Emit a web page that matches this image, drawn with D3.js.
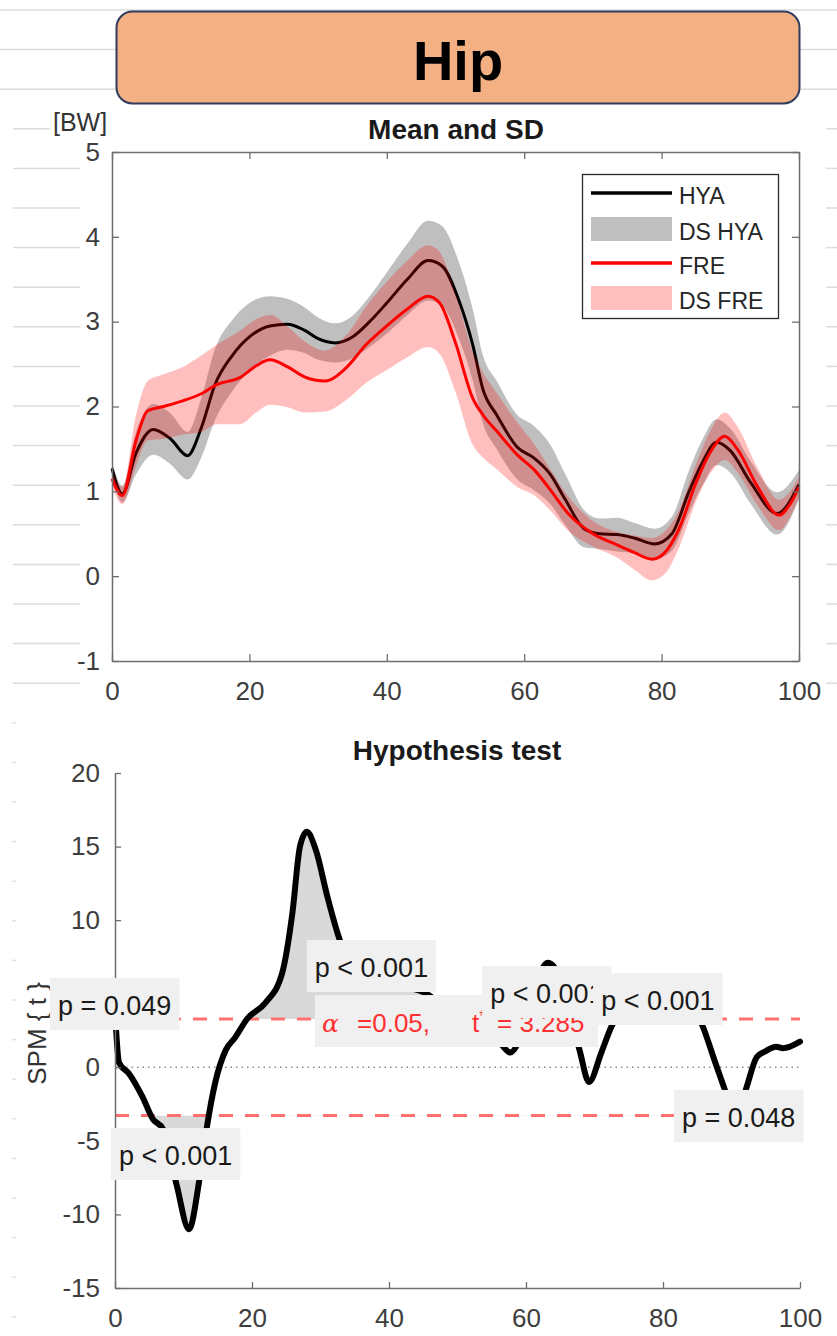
<!DOCTYPE html>
<html>
<head>
<meta charset="utf-8">
<script src="https://cdn.jsdelivr.net/npm/d3@7"></script>
<style>
  body { margin: 0; background: #fff; }
  text { font-family: "Liberation Sans", Arial, sans-serif; }
</style>
</head>
<body>
<svg id="fig" width="837" height="1336"></svg>
<script>
// ---- data ----
const hyaT    = [0, 1.5, 3.5, 6, 8.5, 11, 13, 15, 17.5, 20, 23, 25.5, 28, 30, 32.5, 35, 37.5, 40, 43, 46, 48, 50.5, 52.5, 54, 56, 59, 61.3, 63.8, 66, 68.7, 71, 73.5, 76, 79, 81.5, 84, 86, 88, 90, 93, 96.8, 100];
const hyaMean = [1.27, 0.97, 1.45, 1.73, 1.62, 1.42, 1.75, 2.26, 2.6, 2.82, 2.95, 2.97, 2.9, 2.8, 2.75, 2.82, 3.0, 3.22, 3.5, 3.72, 3.66, 3.25, 2.73, 2.2, 1.9, 1.52, 1.4, 1.2, 0.9, 0.56, 0.5, 0.49, 0.45, 0.38, 0.5, 1.0, 1.35, 1.58, 1.48, 1.1, 0.74, 1.08];
const hyaSd   = [0.08, 0.1, 0.25, 0.3, 0.3, 0.28, 0.35, 0.42, 0.42, 0.4, 0.35, 0.3, 0.27, 0.25, 0.23, 0.25, 0.3, 0.36, 0.42, 0.47, 0.47, 0.45, 0.42, 0.4, 0.4, 0.38, 0.38, 0.35, 0.3, 0.22, 0.18, 0.2, 0.18, 0.18, 0.2, 0.25, 0.27, 0.27, 0.26, 0.25, 0.25, 0.17];

const freT    = [0, 1.5, 3.5, 5.2, 7.5, 10.4, 13, 15.3, 18.6, 21, 23, 25.5, 28, 31, 34, 37, 40, 43, 46, 47.7, 50, 52.5, 54, 56, 59, 61.5, 63.5, 66.6, 70, 73.5, 76, 78.6, 80.5, 82.5, 85, 87, 89.2, 91, 94, 97.1, 98.7, 100];
const freMean = [1.15, 0.95, 1.6, 1.95, 2.0, 2.07, 2.15, 2.26, 2.34, 2.48, 2.55, 2.47, 2.35, 2.3, 2.45, 2.73, 2.95, 3.15, 3.3, 3.22, 2.75, 2.1, 1.9, 1.71, 1.43, 1.25, 1.05, 0.72, 0.5, 0.37, 0.28, 0.2, 0.28, 0.55, 1.1, 1.45, 1.65, 1.5, 1.05, 0.72, 0.85, 1.05];
const freSd   = [0.08, 0.1, 0.3, 0.35, 0.38, 0.4, 0.45, 0.47, 0.55, 0.55, 0.53, 0.48, 0.42, 0.36, 0.38, 0.45, 0.52, 0.57, 0.6, 0.6, 0.58, 0.55, 0.5, 0.45, 0.38, 0.3, 0.25, 0.2, 0.15, 0.15, 0.2, 0.25, 0.25, 0.22, 0.22, 0.25, 0.28, 0.27, 0.22, 0.18, 0.15, 0.12];

const spmT = [0, 0.6, 2, 4, 5.5, 7, 9, 10.8, 12.3, 13.4, 14.6, 16.2, 17.5, 19.3, 22, 24.4, 25.9, 27, 28, 29.3, 31, 32.7, 35, 38, 42, 45.5, 48, 51, 54, 56.5, 57.7, 59, 61, 63.2, 65, 66.5, 67.8, 69.2, 71, 72.5, 76, 79, 82, 85.7, 87.5, 89, 90.5, 92.1, 93.7, 95, 96.5, 97.5, 100];
const spmV = [3.8, 0.3, -0.4, -2.0, -3.5, -4.2, -8, -11, -7.7, -4.1, -1.1, 1.2, 2.0, 3.3, 4.4, 6.4, 10.5, 15, 16, 14.8, 11.6, 8.8, 6.5, 6, 5.5, 5.0, 4.2, 4, 3, 1.5, 1.0, 1.8, 5, 7.1, 6, 3.4, 1.2, -1.0, 1.0, 2.8, 4.5, 5.5, 5, 2.9, 0.5, -1.5, -3.6, -1.5, 0.7, 1.1, 1.4, 1.3, 1.75];
const tStar = 3.285;

const topXTicks = [0, 20, 40, 60, 80, 100];
const topYTicks = [-1, 0, 1, 2, 3, 4, 5];
const botYTicks = [-15, -10, -5, 0, 5, 10, 15, 20];
const botYHidden = [5]; // label sits under the p = 0.049 box in the original
const legendLabels = ['HYA', 'DS HYA', 'FRE', 'DS FRE'];

// cluster p-value labels, anchored at top-left corner in (time %, SPM t) units
const annotations = [
    { label: 'p = 0.049', t: -9.5, v: 6.07 },
    { label: 'p < 0.001', t: 28.0, v: 8.65 },
    { label: 'p < 0.001', t: 53.6, v: 6.88 },
    { label: 'p < 0.001', t: 69.8, v: 6.41 },
    { label: 'p < 0.001', t: -0.6, v: -4.13 },
    { label: 'p = 0.048', t: 81.6, v: -1.54 },
];
const alphaLabel = { t: 29.2, v: 4.91 };

// ---- page ----
const W = 837, H = 1336;
const svg = d3.select('#fig');
const plain = d => String(d); // matlab style, hyphen minus, no decimals

// spreadsheet row lines behind the pasted figure
d3.range(10, H, 39.6).forEach(y => {
    if (y < 100) {
        svg.append('line').attr('x1', 0).attr('x2', W).attr('y1', y).attr('y2', y)
            .attr('stroke', '#dcdcdc').attr('stroke-width', 1.5);
    } else if (y < 700) {
        svg.append('line').attr('x1', 13).attr('x2', y > 120 && y < 135 ? 50 : 80).attr('y1', y).attr('y2', y)
            .attr('stroke', '#dcdcdc').attr('stroke-width', 1.5);
        svg.append('line').attr('x1', 826).attr('x2', W).attr('y1', y).attr('y2', y)
            .attr('stroke', '#dcdcdc').attr('stroke-width', 1.5);
    } else {
        svg.append('line').attr('x1', 12).attr('x2', 16).attr('y1', y).attr('y2', y)
            .attr('stroke', '#e2e2e2').attr('stroke-width', 1.5);
    }
});

// title banner
svg.append('rect')
    .attr('x', 116.5).attr('y', 11.5).attr('width', 683).attr('height', 92)
    .attr('rx', 16).attr('ry', 16)
    .attr('fill', '#f3b183').attr('stroke', '#2f3c5c').attr('stroke-width', 2);
svg.append('text')
    .attr('x', 458).attr('y', 80).attr('text-anchor', 'middle')
    .attr('font-size', 56).attr('font-weight', 'bold').attr('fill', '#000')
    .text('Hip');

function styleAxis(g, fs) {
    g.attr('font-family', '"Liberation Sans", Arial, sans-serif')
        .attr('font-size', fs)
        .attr('color', '#6e6e6e');
    g.select('.domain').attr('stroke-width', 1.5);
    g.selectAll('.tick line').attr('stroke-width', 1.3);
    g.selectAll('.tick text').attr('fill', '#3d3d3d');
}

// ================= Mean and SD =================
const xTop = d3.scaleLinear().domain([0, 100]).range([112, 799]);
const yTop = d3.scaleLinear().domain([-1, 5]).range([661, 152]);

const hya = hyaT.map((t, i) => ({ t: t, m: hyaMean[i], s: hyaSd[i] }));
const fre = freT.map((t, i) => ({ t: t, m: freMean[i], s: freSd[i] }));

const band = d3.area()
    .x(d => xTop(d.t))
    .y0(d => yTop(d.m - d.s))
    .y1(d => yTop(d.m + d.s))
    .curve(d3.curveMonotoneX);
const meanLine = d3.line()
    .x(d => xTop(d.t))
    .y(d => yTop(d.m))
    .curve(d3.curveMonotoneX);

svg.append('path').attr('d', band(hya)).attr('fill', '#000').attr('fill-opacity', 0.25);
svg.append('path').attr('d', meanLine(hya)).attr('fill', 'none').attr('stroke', '#000').attr('stroke-width', 3);
svg.append('path').attr('d', band(fre)).attr('fill', '#ff0000').attr('fill-opacity', 0.25);
svg.append('path').attr('d', meanLine(fre)).attr('fill', 'none').attr('stroke', '#ff0000').attr('stroke-width', 3);

// box axes, ticks pointing inward
svg.append('g').attr('transform', `translate(0,${yTop(-1)})`)
    .call(d3.axisBottom(xTop).tickValues(topXTicks).tickFormat(plain).tickSizeInner(-7).tickSizeOuter(0).tickPadding(21))
    .call(styleAxis, 26);
svg.append('g').attr('transform', `translate(${xTop(0)},0)`)
    .call(d3.axisLeft(yTop).tickValues(topYTicks).tickFormat(plain).tickSizeInner(-7).tickSizeOuter(0).tickPadding(12))
    .call(styleAxis, 26);
svg.append('g').attr('transform', `translate(0,${yTop(5)})`)
    .call(d3.axisTop(xTop).tickValues(topXTicks).tickSizeInner(-7).tickSizeOuter(0).tickFormat(''))
    .call(styleAxis, 26);
svg.append('g').attr('transform', `translate(${xTop(100)},0)`)
    .call(d3.axisRight(yTop).tickValues(topYTicks).tickSizeInner(-7).tickSizeOuter(0).tickFormat(''))
    .call(styleAxis, 26);

svg.append('text')
    .attr('x', 456).attr('y', 139).attr('text-anchor', 'middle')
    .attr('font-size', 28).attr('font-weight', 'bold').attr('fill', '#1a1a1a')
    .text('Mean and SD');
svg.append('text')
    .attr('x', 53).attr('y', 131)
    .attr('font-size', 25).attr('fill', '#333')
    .text('[BW]');

// legend
const legend = svg.append('g').attr('transform', `translate(${xTop(100) - 217},${yTop(5) + 22})`);
legend.append('rect')
    .attr('x', 0.5).attr('y', 0.5).attr('width', 196).attr('height', 144)
    .attr('fill', '#fff').attr('stroke', '#2b2b2b').attr('stroke-width', 1.3);
const legendRows = [19, 55, 89, 124];
legendLabels.forEach((lab, i) => {
    const y = legendRows[i];
    if (i % 2 === 0) {
        legend.append('line')
            .attr('x1', 9).attr('x2', 90).attr('y1', y).attr('y2', y)
            .attr('stroke', i === 0 ? '#000' : '#ff0000').attr('stroke-width', 3.5);
    } else {
        legend.append('rect')
            .attr('x', 9).attr('y', y - 12).attr('width', 81).attr('height', 24)
            .attr('fill', i === 1 ? '#000' : '#ff0000').attr('fill-opacity', 0.25);
    }
    legend.append('text')
        .attr('x', 97).attr('y', y + 11)
        .attr('font-size', 23).attr('fill', '#262626')
        .text(lab);
});

// ================= Hypothesis test =================
const xBot = d3.scaleLinear().domain([0, 100]).range([115, 800]);
const yBot = d3.scaleLinear().domain([-15, 20]).range([1288, 773]);
const spm = spmT.map((t, i) => ({ t: t, v: spmV[i] }));

const defs = svg.append('defs');
defs.append('clipPath').attr('id', 'clip-up').append('rect')
    .attr('x', xBot(0)).attr('y', yBot(20))
    .attr('width', xBot(100) - xBot(0)).attr('height', yBot(tStar) - yBot(20));
defs.append('clipPath').attr('id', 'clip-down').append('rect')
    .attr('x', xBot(0)).attr('y', yBot(-tStar))
    .attr('width', xBot(100) - xBot(0)).attr('height', yBot(-15) - yBot(-tStar));

// supra-threshold clusters
svg.append('path')
    .attr('d', d3.area().x(d => xBot(d.t)).y0(yBot(tStar)).y1(d => yBot(d.v)).curve(d3.curveMonotoneX)(spm))
    .attr('fill', '#d9d9d9').attr('clip-path', 'url(#clip-up)');
svg.append('path')
    .attr('d', d3.area().x(d => xBot(d.t)).y0(yBot(-tStar)).y1(d => yBot(d.v)).curve(d3.curveMonotoneX)(spm))
    .attr('fill', '#d9d9d9').attr('clip-path', 'url(#clip-down)');

// zero and threshold lines
svg.append('line')
    .attr('x1', xBot(0)).attr('x2', xBot(100)).attr('y1', yBot(0)).attr('y2', yBot(0))
    .attr('stroke', '#8a8a8a').attr('stroke-width', 1.5).attr('stroke-dasharray', '1.5 4');
[tStar, -tStar].forEach(th => {
    svg.append('line')
        .attr('x1', xBot(0)).attr('x2', xBot(100)).attr('y1', yBot(th)).attr('y2', yBot(th))
        .attr('stroke', '#ff7070').attr('stroke-width', 3).attr('stroke-dasharray', '14 12');
});

svg.append('path')
    .attr('d', d3.line().x(d => xBot(d.t)).y(d => yBot(d.v)).curve(d3.curveMonotoneX)(spm))
    .attr('fill', 'none').attr('stroke', '#000').attr('stroke-width', 6)
    .attr('stroke-linejoin', 'round').attr('stroke-linecap', 'round');

svg.append('g').attr('transform', `translate(0,${yBot(-15)})`)
    .call(d3.axisBottom(xBot).tickValues(topXTicks).tickFormat(plain).tickSizeInner(-6).tickSizeOuter(0).tickPadding(21))
    .call(styleAxis, 26);
svg.append('g').attr('transform', `translate(${xBot(0)},0)`)
    .call(d3.axisLeft(yBot).tickValues(botYTicks)
        .tickFormat(d => botYHidden.includes(d) ? '' : plain(d))
        .tickSizeInner(-6).tickSizeOuter(0).tickPadding(15))
    .call(styleAxis, 26);

svg.append('text')
    .attr('x', 457).attr('y', 760).attr('text-anchor', 'middle')
    .attr('font-size', 28).attr('font-weight', 'bold').attr('fill', '#1a1a1a')
    .text('Hypothesis test');
svg.append('text')
    .attr('transform', `translate(46,${yBot(2.3)}) rotate(-90)`)
    .attr('text-anchor', 'middle')
    .attr('font-size', 26).attr('fill', '#333')
    .text('SPM { t }');

// critical threshold label
const ax = xBot(alphaLabel.t), ay = yBot(alphaLabel.v);
svg.append('rect')
    .attr('x', ax).attr('y', ay).attr('width', 283).attr('height', 52)
    .attr('fill', '#f0f0f0');
const alphaText = svg.append('text')
    .attr('y', ay + 37).attr('font-size', 26).attr('fill', '#ff3030');
alphaText.append('tspan').attr('x', ax + 7)
    .attr('font-family', '"DejaVu Serif", serif').attr('font-style', 'italic').attr('font-size', 25)
    .text('α');
alphaText.append('tspan').attr('x', ax + 42).text('=0.05,');
alphaText.append('tspan').attr('x', ax + 157).text('t');
alphaText.append('tspan').attr('font-size', 16).attr('dy', -10).text('*');
alphaText.append('tspan').attr('x', ax + 182).attr('dy', 10).text('= 3.285');

// cluster p-values
annotations.forEach(a => {
    const bx = xBot(a.t), by = yBot(a.v);
    const box = svg.append('rect').attr('x', bx).attr('y', by).attr('height', 52).attr('fill', '#f0f0f0');
    const txt = svg.append('text')
        .attr('x', bx + 8).attr('y', by + 37)
        .attr('font-size', 27).attr('fill', '#1a1a1a')
        .text(a.label);
    box.attr('width', txt.node().getComputedTextLength() + 16);
});
</script>
</body>
</html>
